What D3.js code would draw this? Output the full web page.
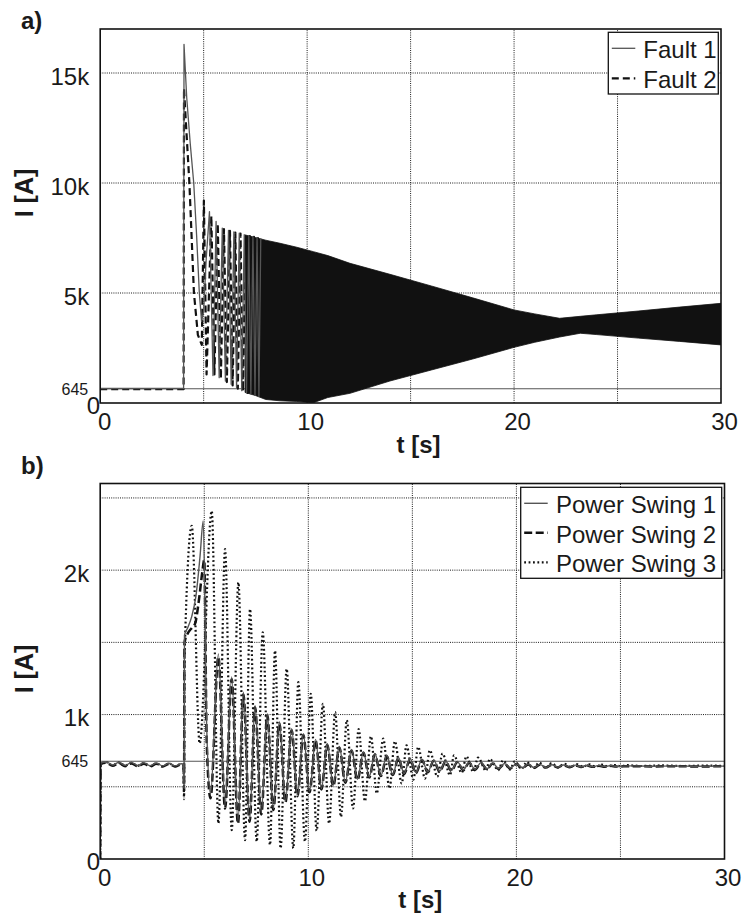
<!DOCTYPE html>
<html><head><meta charset="utf-8">
<script src="https://cdn.jsdelivr.net/npm/d3@7"></script>
<style>
body{margin:0;background:#fff}
svg{display:block;font-family:"Liberation Sans",Arial,Helvetica,sans-serif}
</style></head><body>
<svg id="chart" width="743" height="915"></svg>
<script>
// ---------------- DATA ----------------
// Panel a) fault currents [t (s), I (A)] - transient and first visible oscillation strokes
const fault1 = [[0,660],[4.03,660],[4.05,16300],[4.18,13900],[4.35,11800],[4.52,10000],[4.66,7600],[4.79,5000],[4.9,3700],[5.0,4200],[5.12,6500],[5.28,8700],
 [5.45,1250],[5.6,8250],[5.75,1150],[5.9,7950],[6.05,1000],[6.2,7850],[6.33,850],[6.46,7780],[6.59,700],[6.72,7720],[6.84,560],[6.96,7650],[7.07,480],[7.18,7600],
 [7.28,420],[7.38,7560],[7.48,350],[7.58,7520],[7.67,300],[7.76,7490]];
const fault2 = [[0,630],[4.03,630],[4.05,14300],[4.12,13100],[4.31,10000],[4.53,5000],[4.72,3100],[4.91,2640],[5.01,9200],[5.14,1300],
 [5.37,8500],[5.52,1300],[5.68,8150],[5.83,1100],[5.98,7900],[6.12,950],[6.27,7820],[6.4,800],[6.53,7750],[6.65,650],[6.78,7700],[6.9,530],[7.02,7640],[7.12,460],
 [7.23,7590],[7.33,400],[7.43,7550],[7.53,330],[7.62,7500],[7.72,280]];
// oscillation envelope of both fault currents (dense oscillation band)
const envTime  = [7.0, 7.5, 8.0, 8.69, 9.5, 10.3, 11.0, 12.07, 14.0, 16.0, 18.0, 20.0, 21.0, 22.2, 23.2, 24.0, 26.0, 28.0, 30.0];
const envUpper = [7640, 7520, 7400, 7260, 7080, 6880, 6700, 6350, 5850, 5320, 4780, 4230, 4050, 3850, 3940, 4010, 4180, 4360, 4530];
const envLower = [480, 340, 160, 100, 70, 10, 250, 440, 1000, 1500, 2000, 2530, 2760, 3000, 3170, 3110, 2950, 2800, 2640];
const refLevelA = 645;

// Panel b) power swing currents [t (s), I (A)]
const swing1 = [[0,0],[0.03,665],[0.3,672],[0.6,650],[0.9,670],[1.2,648],[1.5,668],[1.8,647],[2.1,666],[2.4,646],[2.7,664],[3.0,645],[3.3,663],[3.6,645],[3.9,660],[4.0,655],
 [4.03,490],[4.05,1550],[4.2,1600],[4.4,1680],[4.6,1820],[4.8,2100],[4.95,2340],[5.12,900],[5.3,450],[5.68,1420],[6.0,370],[6.32,1260],[6.62,260],[6.88,1155],[7.18,270],
 [7.44,1064],[7.74,320],[8.03,1006],[8.32,350],[8.61,950],[8.9,400],[9.2,902],[9.48,442],[9.76,868],[10.06,470],[10.35,828],[10.63,488],[10.91,799],[11.2,511],
 [11.49,780],[11.78,534],[12.08,758],[12.36,552],[12.65,741],[12.93,569],[13.2,730],[13.49,578],[13.77,718],[14.06,585],[14.33,704],[14.6,592],[14.89,696],[15.17,598],
 [15.46,690],[15.74,603],[16.03,684],[16.31,608],[16.6,679],[16.88,613],[17.16,674],[17.45,617],[17.73,670],[18.01,621],[18.3,667],[18.58,624],[18.86,664],[19.14,627],
 [19.43,661],[19.71,629],[20.0,659],[20.28,631],[20.56,657],[20.85,633],[21.13,655],[21.41,634],[21.7,653],[21.98,636],[22.26,651],[22.54,637],[22.83,650],[23.11,638],
 [23.4,649],[23.68,639],[23.96,648],[24.25,640],[24.53,647],[24.8,641],[25.5,645],[26.5,642],[27.5,644],[28.5,642],[30,643]];
const swing2 = [[0,0],[0.03,658],[0.3,666],[0.6,645],[0.9,664],[1.2,643],[1.5,662],[1.8,642],[2.1,660],[2.4,641],[2.7,659],[3.0,640],[3.3,658],[3.6,640],[3.9,655],[4.0,650],
 [4.03,470],[4.05,1500],[4.2,1560],[4.4,1600],[4.56,1630],[4.75,1800],[4.9,1980],[5.0,2070],[5.12,800],[5.3,420],[5.68,1400],[6.0,350],[6.32,1245],[6.62,245],[6.88,1140],[7.18,258],
 [7.44,1050],[7.74,308],[8.03,995],[8.32,340],[8.61,940],[8.9,392],[9.2,892],[9.48,435],[9.76,858],[10.06,462],[10.35,820],[10.63,482],[10.91,791],[11.2,505],
 [11.49,772],[11.78,528],[12.08,751],[12.36,547],[12.65,735],[12.93,564],[13.2,724],[13.49,574],[13.77,712],[14.06,581],[14.33,699],[14.6,588],[14.89,691],[15.17,595],
 [15.46,685],[15.74,600],[16.03,680],[16.31,605],[16.6,675],[16.88,610],[17.16,671],[17.45,614],[17.73,667],[18.01,618],[18.3,664],[18.58,622],[18.86,661],[19.14,625],
 [19.43,659],[19.71,627],[20.0,657],[20.28,629],[20.56,655],[20.85,631],[21.13,653],[21.41,633],[21.7,651],[21.98,634],[22.26,650],[22.54,636],[22.83,648],[23.11,637],
 [23.4,647],[23.68,638],[23.96,646],[24.25,639],[24.53,645],[24.8,640],[25.5,643],[26.5,641],[27.5,643],[28.5,641],[30,642]];
const swing3 = [[0,0],[0.03,662],[0.3,670],[0.6,648],[0.9,668],[1.2,646],[1.5,666],[1.8,645],[2.1,664],[2.4,644],[2.7,662],[3.0,643],[3.3,661],[3.6,643],[3.9,658],[4.0,652],
 [4.03,414],[4.05,1375],[4.4,2307],[4.78,800],[5.36,2410],[5.68,246],[6.0,2146],[6.32,200],[6.64,1915],[6.96,131],[7.2,1731],[7.52,120],[7.81,1570],[8.16,97],
 [8.4,1443],[8.67,74],[8.96,1317],[9.28,74],[9.52,1225],[9.84,120],[10.12,1144],[10.4,195],[10.7,1075],[11.0,246],[11.29,1017],[11.57,292],[11.85,962],[12.15,350],
 [12.42,900],[12.72,400],[13.01,850],[13.29,454],[13.6,834],[13.9,488],[14.16,815],[14.49,523],[14.72,787],[15.05,550],[15.28,776],[15.61,557],[15.84,753],[16.2,569],
 [16.45,730],[16.81,580],[17.0,718],[17.37,596],[17.6,711],[17.93,603],[18.16,702],[18.54,610],[18.72,693],[19.13,615],[19.36,684],[19.69,620],[19.92,677],[20.25,624],
 [20.5,672],[20.8,628],[21.1,668],[21.4,632],[21.7,664],[22.0,635],[22.3,660],[22.6,637],[22.9,657],[23.2,639],[23.5,655],[23.8,640],[24.1,653],[24.4,641],[24.7,651],
 [25.0,642],[25.3,650],[26.0,644],[27.0,648],[28.0,644],[29.0,647],[30.0,645]];
const refLevelB = 677;   // drawn reference line (labelled 645)
const refLabel = "645";

// ticks / labels
const xTicks = [0, 10, 20, 30];
const xGrid = [5, 10, 15, 20, 25];
const yTicksA = [0, 5000, 10000, 15000];
const yGridA = [5000, 10000, 15000];
const yTicksB = [0, 1000, 2000];
const yGridB = [500, 1000, 1500, 2000, 2500];
const legendA = ["Fault 1", "Fault 2"];
const legendB = ["Power Swing 1", "Power Swing 2", "Power Swing 3"];

// ---------------- DRAWING ----------------
const svg = d3.select("#chart");
const kfmt = d => d === 0 ? "0" : (d / 1000) + "k";

function panel(cfg) {
  const {x, y, tag, tagY, xLabelY, yLabelY} = cfg;
  const [x0, x1] = x.range();
  const [yb, yt] = y.range();
  const g = svg.append("g");
  const clipId = "clip" + tag;
  svg.append("defs").append("clipPath").attr("id", clipId)
    .append("rect").attr("x", x0).attr("y", yt).attr("width", x1 - x0).attr("height", yb - yt);

  // grid
  const gridStyle = sel => sel.attr("stroke", "#1a1a1a").attr("stroke-width", 1).attr("stroke-dasharray", "1,1.2");
  g.append("g").selectAll("line").data(xGrid).join("line")
    .attr("x1", d => x(d)).attr("x2", d => x(d)).attr("y1", yb).attr("y2", yt).call(gridStyle);
  g.append("g").selectAll("line").data(cfg.yGrid).join("line")
    .attr("x1", x0).attr("x2", x1).attr("y1", d => y(d)).attr("y2", d => y(d)).call(gridStyle);

  // reference line
  g.append("line").attr("x1", x0).attr("x2", x1).attr("y1", y(cfg.ref)).attr("y2", y(cfg.ref))
    .attr("stroke", "#555").attr("stroke-width", 1.1);

  const data = g.append("g").attr("clip-path", `url(#${clipId})`);
  cfg.drawData(data);

  // frame
  g.append("rect").attr("x", x0).attr("y", yt).attr("width", x1 - x0).attr("height", yb - yt)
    .attr("fill", "none").attr("stroke", "#111").attr("stroke-width", 1.6);

  // x axis labels
  const xa = g.append("g").attr("transform", `translate(0,${yb})`)
    .call(d3.axisBottom(x).tickValues(xTicks).tickSize(0).tickPadding(10).tickFormat(d3.format("d")));
  xa.select(".domain").remove();
  xa.selectAll("text").attr("font-size", 24).attr("fill", "#1a1a1a").attr("font-family", null)
    .attr("dx", d => d === 0 ? 4 : 3);

  // y axis labels
  const ya = g.append("g").attr("transform", `translate(${x0},0)`)
    .call(d3.axisLeft(y).tickValues(cfg.yTicks).tickSize(0).tickPadding(11).tickFormat(kfmt));
  ya.select(".domain").remove();
  ya.selectAll("text").attr("font-size", 24).attr("fill", "#1a1a1a").attr("font-family", null)
    .attr("dy", d => d === 0 ? "0.45em" : "0.47em")
    .attr("x", d => d === 0 ? 0 : -11);

  // ref label
  g.append("text").attr("x", x0 - 12).attr("y", y(cfg.ref)).attr("dy", "0.38em")
    .attr("text-anchor", "end").attr("font-size", 16).attr("fill", "#1a1a1a").text(refLabel);

  // axis titles
  g.append("text").attr("x", (x0 + x1) / 2 + 8).attr("y", xLabelY).attr("text-anchor", "middle")
    .attr("font-size", 24).attr("font-weight", "bold").attr("fill", "#1a1a1a").text("t [s]");
  g.append("text").attr("transform", `translate(32.5,${yLabelY}) rotate(-90)`).attr("text-anchor", "middle")
    .attr("font-size", 25).attr("font-weight", "bold").attr("fill", "#1a1a1a").text("I [A]");
  g.append("text").attr("x", 21).attr("y", tagY).attr("font-size", 24).attr("font-weight", "bold")
    .attr("fill", "#1a1a1a").text(tag + ")");

  // legend
  const L = cfg.legend;
  const lg = g.append("g");
  lg.append("rect").attr("x", L.x).attr("y", L.y).attr("width", L.w).attr("height", L.h)
    .attr("fill", "#fff").attr("stroke", "#111").attr("stroke-width", 1.3);
  L.items.forEach((name, i) => {
    const cy = L.y + L.first + i * L.step;
    lg.append("line").attr("x1", L.x + 3.5).attr("x2", L.x + 27).attr("y1", cy).attr("y2", cy)
      .attr("stroke", L.styles[i].color).attr("stroke-width", L.styles[i].width)
      .attr("stroke-dasharray", L.styles[i].dash);
    lg.append("text").attr("x", L.x + L.textDx).attr("y", cy + 10).attr("font-size", 24)
      .attr("fill", "#1a1a1a").text(name);
  });
}

// ---- Panel a
const xA = d3.scaleLinear().domain([0, 30]).range([100.2, 721]);
const yA = d3.scaleLinear().domain([0, 17000]).range([403, 29]);
const styleF1 = {color: "#555", width: 1.3, dash: null};
const styleF2 = {color: "#111", width: 2.2, dash: "7,4"};
panel({
  x: xA, y: yA, tag: "a", tagY: 29, xLabelY: 453, yLabelY: 193, yGrid: yGridA, yTicks: yTicksA, ref: refLevelA,
  legend: {x: 608.3, y: 32.3, w: 110, h: 61.7, first: 16, step: 30, textDx: 35, items: legendA, styles: [styleF1, styleF2]},
  drawData: g => {
    const area = d3.area().x((d, i) => xA(envTime[i])).y0((d, i) => yA(envLower[i])).y1((d, i) => yA(envUpper[i]));
    g.append("path").datum(envTime).attr("d", area).attr("fill", "#111").attr("stroke", "#111").attr("stroke-width", 0.8);
    const line = d3.line().x(d => xA(d[0])).y(d => yA(d[1]));
    g.append("path").datum(fault2).attr("d", line).attr("fill", "none").attr("stroke-linejoin", "round")
      .attr("stroke", styleF2.color).attr("stroke-width", styleF2.width).attr("stroke-dasharray", styleF2.dash);
    g.append("path").datum(fault1).attr("d", line).attr("fill", "none").attr("stroke-linejoin", "round")
      .attr("stroke", styleF1.color).attr("stroke-width", styleF1.width);
  }
});

// ---- Panel b
const xB = d3.scaleLinear().domain([0, 30]).range([100.2, 724.5]);
const yB = d3.scaleLinear().domain([0, 2600]).range([859, 483.5]);
const styleS1 = {color: "#555", width: 1.4, dash: null};
const styleS2 = {color: "#111", width: 2.5, dash: "8,3.5"};
const styleS3 = {color: "#111", width: 2.2, dash: "1.8,2.6"};
panel({
  x: xB, y: yB, tag: "b", tagY: 474, xLabelY: 908, yLabelY: 669, yGrid: yGridB, yTicks: yTicksB, ref: refLevelB,
  legend: {x: 520.7, y: 487.3, w: 201, h: 91, first: 16, step: 29.5, textDx: 35.3, items: legendB, styles: [styleS1, styleS2, styleS3]},
  drawData: g => {
    const line = d3.line().x(d => xB(d[0])).y(d => yB(d[1])).curve(d3.curveMonotoneX);
    g.append("path").datum(swing3).attr("d", line).attr("fill", "none")
      .attr("stroke", styleS3.color).attr("stroke-width", styleS3.width).attr("stroke-dasharray", styleS3.dash);
    g.append("path").datum(swing2).attr("d", line).attr("fill", "none")
      .attr("stroke", styleS2.color).attr("stroke-width", styleS2.width).attr("stroke-dasharray", styleS2.dash);
    g.append("path").datum(swing1).attr("d", line).attr("fill", "none")
      .attr("stroke", styleS1.color).attr("stroke-width", styleS1.width);
  }
});
</script>
</body></html>
